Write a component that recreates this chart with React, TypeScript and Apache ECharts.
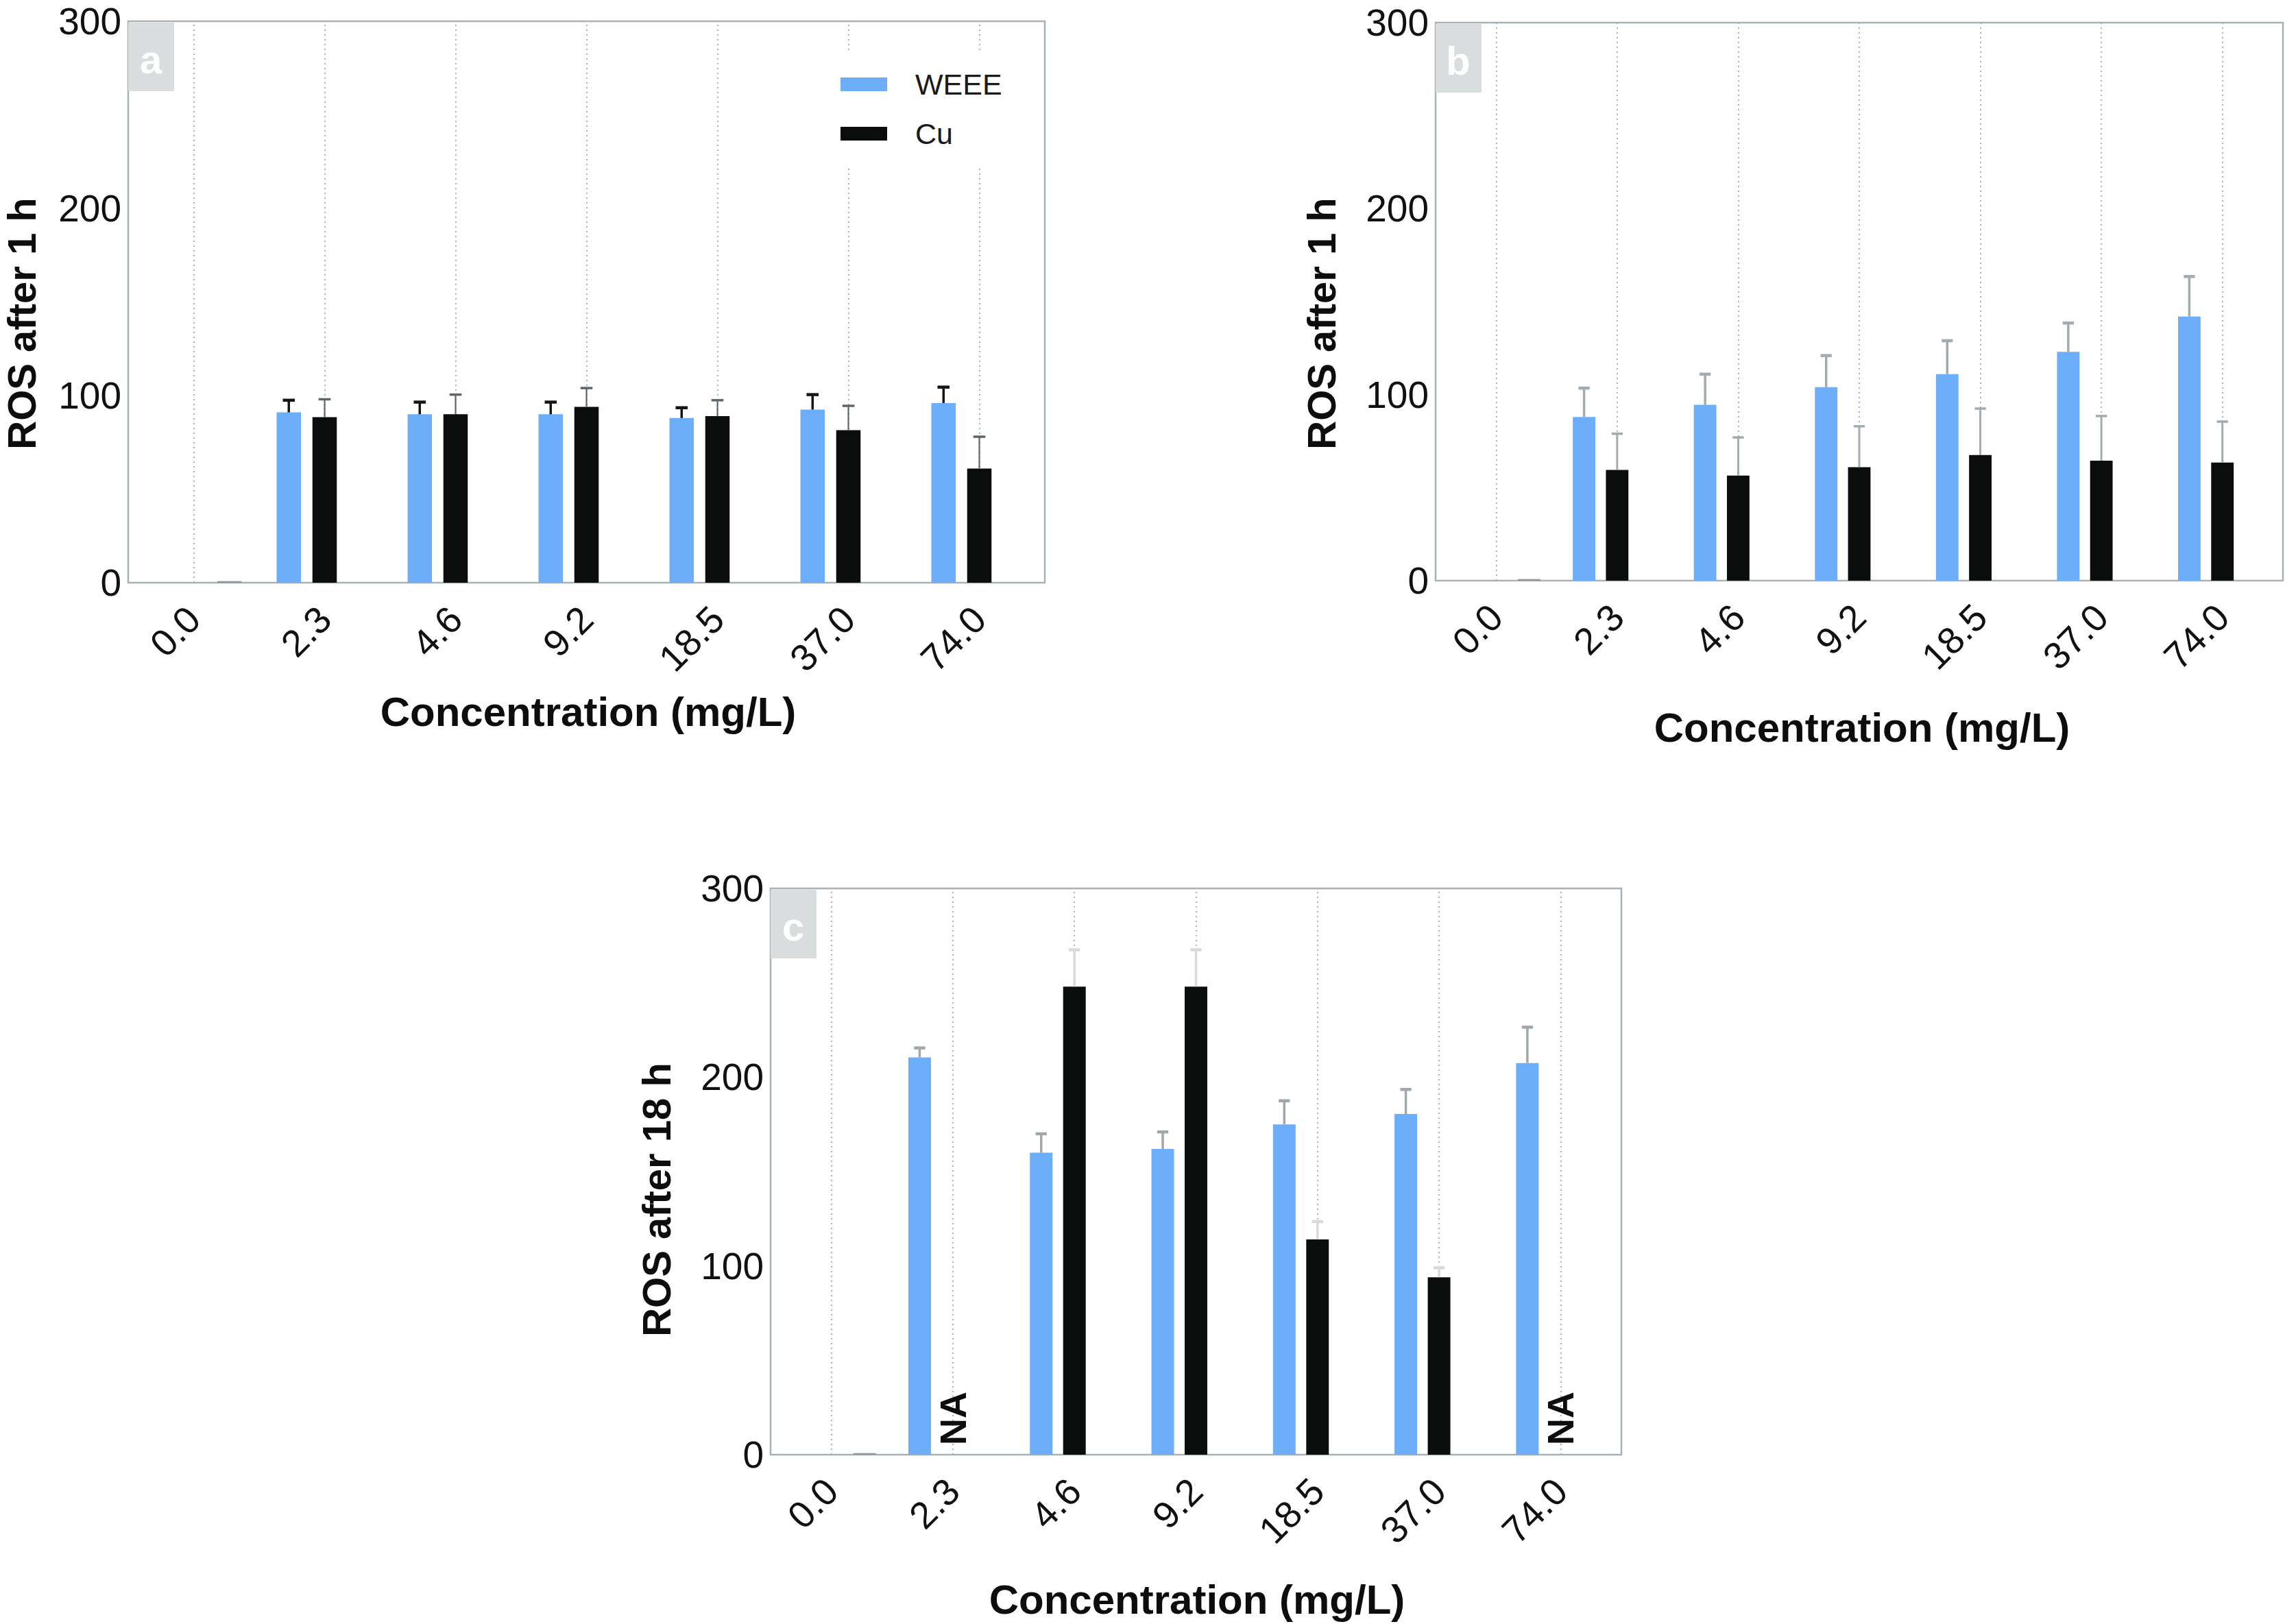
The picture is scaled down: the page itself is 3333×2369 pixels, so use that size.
import React, { useEffect, useRef } from 'react';
import * as echarts from 'echarts';

// ---------- data ----------
const categories = ['0.0', '2.3', '4.6', '9.2', '18.5', '37.0', '74.0'];
const yTicks = [0, 100, 200, 300];
const seriesNames = ['WEEE', 'Cu'];

// panel a: ROS after 1 h
const aWEEE = [null, 91, 90, 90, 88, 92.5, 96];
const aWEEEsd = [null, 6.5, 6.5, 6.5, 5.5, 8, 8.5];
const aCu = [null, 88.5, 90, 94, 89, 81.5, 61];
const aCusd = [null, 9.5, 10.5, 10, 8.5, 13, 17];
const aControl = [0.8, null, null, null, null, null, null];

// panel b: ROS after 1 h
const bWEEE = [null, 88, 94.5, 104, 111, 123, 142];
const bWEEEsd = [null, 15.5, 16.5, 17, 18, 15.5, 21.5];
const bCu = [null, 59.5, 56.5, 61, 67.5, 64.5, 63.5];
const bCusd = [null, 19.5, 20.5, 22, 25, 24, 22];
const bControl = [0.8, null, null, null, null, null, null];

// panel c: ROS after 18 h
const cWEEE = [null, 210.5, 160, 162, 175, 180.5, 207.5];
const cWEEEsd = [null, 5, 10, 9, 12.5, 13, 19];
const cCu = [null, null, 248, 248, 114, 94, null];
const cCusd = [null, null, 19.5, 19.5, 9.5, 5, null];
const cControl = [0.8, null, null, null, null, null, null];
const cNA = ['2.3', '74.0'];

const panelLetters = ['a', 'b', 'c'];
const yTitles = ['ROS after 1 h', 'ROS after 1 h', 'ROS after 18 h'];
const xTitle = 'Concentration (mg/L)';

// ---------- styling / layout ----------
const FONT = '"Liberation Sans", Arial, Helvetica, sans-serif';
const BLUE = '#6daefa';
const BLACK = '#0b0d0c';
const GRAY_CTRL = '#8d9598';
const FRAME = '#a8b2b6';

const grids = [
  { left: 187, top: 31, width: 1337, height: 819 },
  { left: 2094, top: 33, width: 1236, height: 814 },
  { left: 1124, top: 1296, width: 1241, height: 826 },
];
const xTitlePos = [
  [858, 1038],
  [2716, 1061],
  [1746, 2333],
];
const yTitlePos = [
  [31, 472],
  [1927, 472],
  [957, 1750],
];

const BAR_W = 0.186;
const BAR_GAP = 0.47;
const OFFSET_WEEE = -(BAR_W + BAR_W * BAR_GAP);

const errStyles = [
  { weee: { c: '#151515', lw: 3.5, cap: 4.5 }, cu: { c: '#5f6568', lw: 2.2, cap: 3.5 } },
  { weee: { c: '#a3abae', lw: 3.5, cap: 4.5 }, cu: { c: '#a3abae', lw: 3, cap: 3.5 } },
  { weee: { c: '#a0a8ab', lw: 3.5, cap: 4.5 }, cu: { c: '#d6dadb', lw: 3.5, cap: 4.5 } },
];

const panels = [
  { weee: aWEEE, weeeSd: aWEEEsd, cu: aCu, cuSd: aCusd, control: aControl, na: [] as string[] },
  { weee: bWEEE, weeeSd: bWEEEsd, cu: bCu, cuSd: bCusd, control: bControl, na: [] as string[] },
  { weee: cWEEE, weeeSd: cWEEEsd, cu: cCu, cuSd: cCusd, control: cControl, na: cNA },
];

function errData(mean: (number | null)[], sd: (number | null)[]) {
  const out: number[][] = [];
  mean.forEach((m, i) => {
    if (m != null && sd[i] != null) out.push([i, m, sd[i] as number]);
  });
  return out;
}

function errRender(offsetFactor: number, st: { c: string; lw: number; cap: number }) {
  return (params: any, api: any) => {
    const i = api.value(0);
    const m = api.value(1);
    const sd = api.value(2);
    const band = api.size([1, 0])[0];
    const p0 = api.coord([i, m]);
    const p1 = api.coord([i, m + sd]);
    const x = p0[0] + offsetFactor * band;
    const capW = 0.092 * band;
    return {
      type: 'group',
      children: [
        {
          type: 'line',
          shape: { x1: x, y1: p0[1], x2: x, y2: p1[1] },
          style: { stroke: st.c, lineWidth: st.lw },
        },
        {
          type: 'line',
          shape: { x1: x - capW / 2, y1: p1[1], x2: x + capW / 2, y2: p1[1] },
          style: { stroke: st.c, lineWidth: st.cap },
        },
      ],
    };
  };
}

function buildOption() {
  const grid: any[] = [];
  const xAxis: any[] = [];
  const yAxis: any[] = [];
  const series: any[] = [];
  const graphic: any[] = [];

  panels.forEach((p, k) => {
    const g = grids[k];
    grid.push({
      ...g,
      show: true,
      borderColor: FRAME,
      borderWidth: 2.5,
      backgroundColor: 'transparent',
      containLabel: false,
      outerBoundsMode: 'none',
    });
    xAxis.push({
      type: 'category',
      gridIndex: k,
      data: categories,
      boundaryGap: true,
      axisLine: { show: false },
      axisTick: { show: false },
      splitLine: { show: false },
      axisLabel: {
        interval: 0,
        rotate: 45,
        margin: 44,
        fontSize: 55,
        fontFamily: FONT,
        color: '#111',
      },
    });
    yAxis.push({
      type: 'value',
      gridIndex: k,
      min: yTicks[0],
      max: yTicks[yTicks.length - 1],
      interval: yTicks[1] - yTicks[0],
      axisLine: { show: false },
      axisTick: { show: false },
      splitLine: { show: false },
      axisLabel: {
        margin: 10,
        fontSize: 55,
        lineHeight: 44,
        fontFamily: FONT,
        color: '#111',
      },
    });

    const common = {
      type: 'bar',
      xAxisIndex: k,
      yAxisIndex: k,
      barWidth: BAR_W * 100 + '%',
      barGap: BAR_GAP * 100 + '%',
      z: 2,
    };
    series.push({ ...common, name: seriesNames[0], data: p.weee, itemStyle: { color: BLUE } });
    series.push({
      ...common,
      name: seriesNames[1],
      data: p.cu,
      itemStyle: { color: BLACK },
      markLine: {
        silent: true,
        z: 1,
        symbol: ['none', 'none'],
        label: { show: false },
        lineStyle: { type: [2, 5], color: '#a9b2b6', width: 2 },
        emphasis: { disabled: true },
        data: categories.map((_, i) => ({ xAxis: i })),
      },
    });
    series.push({
      ...common,
      name: 'Control',
      data: p.control,
      itemStyle: { color: GRAY_CTRL },
    });
    series.push({
      type: 'custom',
      name: 'WEEE SD',
      xAxisIndex: k,
      yAxisIndex: k,
      z: 3,
      silent: true,
      data: errData(p.weee, p.weeeSd),
      encode: { x: 0, y: 1 },
      renderItem: errRender(OFFSET_WEEE, errStyles[k].weee),
    });
    series.push({
      type: 'custom',
      name: 'Cu SD',
      xAxisIndex: k,
      yAxisIndex: k,
      z: 3,
      silent: true,
      data: errData(p.cu, p.cuSd),
      encode: { x: 0, y: 1 },
      renderItem: errRender(0, errStyles[k].cu),
    });
    if (p.na.length) {
      series.push({
        type: 'custom',
        name: 'NA',
        xAxisIndex: k,
        yAxisIndex: k,
        z: 4,
        silent: true,
        data: p.na.map((c) => [categories.indexOf(c), 0]),
        encode: { x: 0, y: 1 },
        renderItem: (params: any, api: any) => {
          const pt = api.coord([api.value(0), api.value(1)]);
          return {
            type: 'text',
            x: pt[0],
            y: pt[1] - 53,
            rotation: Math.PI / 2,
            style: {
              text: 'NA',
              fontSize: 54,
              fontWeight: 'bold',
              fontFamily: FONT,
              fill: '#0d0d0d',
              align: 'center',
              verticalAlign: 'middle',
            },
          };
        },
      });
    }

    // panel letter box
    graphic.push({
      type: 'rect',
      shape: { x: g.left, y: g.top + 2, width: 67, height: 100 },
      style: { fill: '#d9dddd' },
      z: 10,
    });
    graphic.push({
      type: 'text',
      x: g.left + 33,
      y: g.top + 55,
      style: {
        text: panelLetters[k],
        fontSize: 58,
        fontWeight: 'bold',
        fontFamily: FONT,
        fill: '#ffffff',
        align: 'center',
        verticalAlign: 'middle',
      },
      z: 11,
    });
    // axis titles
    graphic.push({
      type: 'text',
      x: xTitlePos[k][0],
      y: xTitlePos[k][1],
      style: {
        text: xTitle,
        fontSize: 60,
        fontWeight: 'bold',
        fontFamily: FONT,
        fill: '#0d0d0d',
        align: 'center',
        verticalAlign: 'middle',
      },
    });
    graphic.push({
      type: 'text',
      x: yTitlePos[k][0],
      y: yTitlePos[k][1],
      rotation: Math.PI / 2,
      style: {
        text: yTitles[k],
        fontSize: 58,
        lineHeight: 50,
        fontWeight: 'bold',
        fontFamily: FONT,
        fill: '#0d0d0d',
        align: 'center',
        verticalAlign: 'middle',
      },
    });
  });

  return {
    animation: false,
    backgroundColor: '#ffffff',
    grid,
    xAxis,
    yAxis,
    series,
    graphic,
    legend: {
      data: seriesNames,
      orient: 'vertical',
      left: 1200,
      top: 74,
      padding: [24, 28, 25, 26],
      backgroundColor: '#ffffff',
      itemWidth: 68,
      itemHeight: 20,
      itemGap: 22,
      icon: 'rect',
      selectedMode: false,
      z: 6,
      textStyle: {
        fontSize: 43,
        lineHeight: 50,
        fontFamily: FONT,
        color: '#1a1a1a',
        padding: [0, 0, 0, 36],
      },
    },
  };
}

export default function App() {
  const ref = useRef<HTMLDivElement>(null);
  useEffect(() => {
    document.body.style.margin = '0';
    document.body.style.overflow = 'hidden';
    if (!ref.current) return;
    const chart = echarts.init(ref.current, undefined, { renderer: 'svg' });
    chart.setOption(buildOption() as any);
    return () => {
      chart.dispose();
    };
  }, []);
  return (
    <div
      ref={ref}
      style={{ position: 'absolute', left: 0, top: 0, width: 3333, height: 2369, background: '#fff' }}
    />
  );
}
